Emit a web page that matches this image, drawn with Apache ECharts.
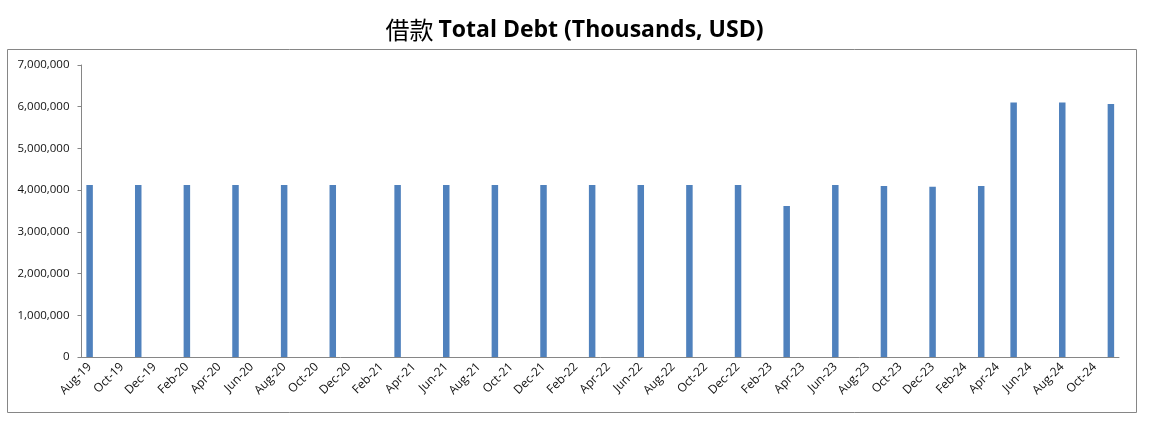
<!DOCTYPE html>
<html>
<head>
<meta charset="utf-8">
<title>Total Debt</title>
<script src="https://cdn.jsdelivr.net/npm/echarts@6/dist/echarts.min.js"></script>
<style>
  html, body { margin: 0; padding: 0; background: #fff; }
  #chart { width: 1149px; height: 425px; }
</style>
</head>
<body>
<div id="chart"></div>
<script>
// monthly slots on the x axis (Excel date axis, one slot per month)
const months = [
  'Aug-19', 'Sep-19', 'Oct-19', 'Nov-19', 'Dec-19',
  'Jan-20', 'Feb-20', 'Mar-20', 'Apr-20', 'May-20', 'Jun-20', 'Jul-20', 'Aug-20', 'Sep-20', 'Oct-20', 'Nov-20', 'Dec-20',
  'Jan-21', 'Feb-21', 'Mar-21', 'Apr-21', 'May-21', 'Jun-21', 'Jul-21', 'Aug-21', 'Sep-21', 'Oct-21', 'Nov-21', 'Dec-21',
  'Jan-22', 'Feb-22', 'Mar-22', 'Apr-22', 'May-22', 'Jun-22', 'Jul-22', 'Aug-22', 'Sep-22', 'Oct-22', 'Nov-22', 'Dec-22',
  'Jan-23', 'Feb-23', 'Mar-23', 'Apr-23', 'May-23', 'Jun-23', 'Jul-23', 'Aug-23', 'Sep-23', 'Oct-23', 'Nov-23', 'Dec-23',
  'Jan-24', 'Feb-24', 'Mar-24', 'Apr-24', 'May-24', 'Jun-24', 'Jul-24', 'Aug-24', 'Sep-24', 'Oct-24', 'Nov-24'
]

// reporting dates that have a value
const reportMonths = [
  'Aug-19', 'Nov-19', 'Feb-20', 'May-20', 'Aug-20', 'Nov-20',
  'Mar-21', 'Jun-21', 'Sep-21', 'Dec-21', 'Mar-22', 'Jun-22', 'Sep-22', 'Dec-22',
  'Mar-23', 'Jun-23', 'Sep-23', 'Dec-23', 'Mar-24', 'May-24', 'Aug-24', 'Nov-24'
]
const totalDebt = [
  4125000, 4125000, 4125000, 4125000, 4125000, 4125000,
  4125000, 4125000, 4125000, 4125000, 4125000, 4125000, 4125000, 4125000,
  3620000, 4125000, 4100000, 4080000, 4100000, 6100000, 6100000, 6065000
]

const yTicks = [0, 1000000, 2000000, 3000000, 4000000, 5000000, 6000000, 7000000]

const seriesData = months.map(m => {
  const i = reportMonths.indexOf(m)
  return i >= 0 ? totalDebt[i] : null
})

const chart = echarts.init(document.getElementById('chart'))
const axisGray = '#868686'
const txt = '#111'
const font = '"Open Sans", "Liberation Sans", sans-serif'

chart.setOption({
  animation: false,
  title: {
    text: '{cn|借款} {en|Total Debt (Thousands, USD)}',
    left: 'center',
    top: 13,
    textStyle: {
      rich: {
        cn: { fontFamily: '"Noto Sans CJK SC", sans-serif', fontSize: 24, fontWeight: 'normal', color: '#000' },
        en: { fontFamily: font, fontSize: 23, fontWeight: 'bold', color: '#000' }
      }
    }
  },
  graphic: [{
    type: 'rect',
    shape: { x: 7.5, y: 49.5, width: 1129, height: 363 },
    style: { fill: 'none', stroke: axisGray, lineWidth: 1 },
    silent: true
  }],
  grid: { left: 81.5, right: 30, top: 65, bottom: 68 },
  xAxis: {
    type: 'category',
    data: months,
    boundaryGap: true,
    axisLine: { lineStyle: { color: axisGray } },
    axisTick: { interval: 1, length: 5, lineStyle: { color: axisGray } },
    axisLabel: {
      interval: 1, rotate: 45, margin: 8,
      color: txt, fontFamily: font, fontSize: 12
    },
    splitLine: { show: false }
  },
  yAxis: {
    type: 'value',
    min: yTicks[0],
    max: yTicks[yTicks.length - 1],
    interval: 1000000,
    axisLine: { show: true, lineStyle: { color: axisGray } },
    axisTick: { show: true, length: 4, lineStyle: { color: axisGray } },
    axisLabel: {
      margin: 12, color: txt, fontFamily: font, fontSize: 11.5,
      formatter: v => v.toLocaleString('en-US')
    },
    splitLine: { show: false }
  },
  series: [{
    type: 'bar',
    data: seriesData,
    barWidth: 6.5,
    itemStyle: { color: '#4f81bd' }
  }]
})
</script>
</body>
</html>
